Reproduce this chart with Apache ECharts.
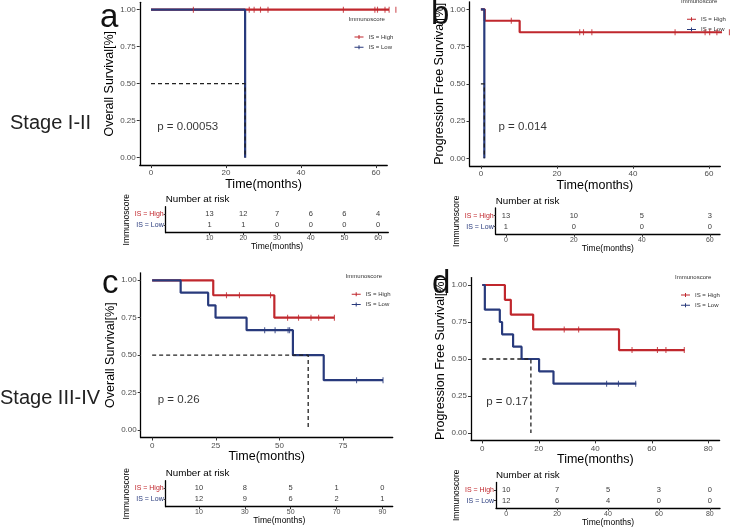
<!DOCTYPE html>
<html>
<head>
<meta charset="utf-8">
<script src="https://cdn.jsdelivr.net/npm/echarts@6/dist/echarts.min.js"></script>
<style>
  html, body { margin: 0; padding: 0; background: #fff; }
  #chart { width: 730px; height: 528px; }
</style>
</head>
<body>
<div id="chart"></div>
<script>
const RED = "#C0272D";
const BLUE = "#283A7C";
const FONT = "Liberation Sans, Arial, sans-serif";

// --- panel a: Stage I-II, overall survival ---
const aHighTime = [0, 65.3];
const aHighSurv = [1, 1];
const aHighCensor = [11.3, 26.2, 27.5, 29.2, 31.2, 51.3, 59.7, 60.4, 62.4, 63.5, 65.3];
const aLowTime = [0, 25.1];
const aLowSurv = [1, 0];
const aLowCensor = [];
const aMedian = 25.1;
const aRiskTimes = [10, 20, 30, 40, 50, 60];
const aRiskHigh = [13, 12, 7, 6, 6, 4];
const aRiskLow = [1, 1, 0, 0, 0, 0];

// --- panel b: Stage I-II, progression free survival ---
const bHighTime = [0, 1, 10.2, 65.4];
const bHighSurv = [1, 0.923, 0.846, 0.846];
const bHighCensor = [8, 26, 27, 29.2, 51.1, 59, 60.2, 62.1, 65.4];
const bLowTime = [0, 0.9];
const bLowSurv = [1, 0];
const bLowCensor = [];
const bMedian = 0.9;
const bRiskTimes = [0, 20, 40, 60];
const bRiskHigh = [13, 10, 5, 3];
const bRiskLow = [1, 0, 0, 0];

// --- panel c: Stage III-IV, overall survival ---
const cHighTime = [0, 24, 48, 71.6];
const cHighSurv = [1, 0.9, 0.75, 0.75];
const cHighCensor = [29.2, 34.3, 46.5, 53.2, 57.5, 62.4, 65.4, 71.6];
const cLowTime = [0, 11.2, 22, 24.9, 37.1, 55.3, 67.4, 90.7];
const cLowSurv = [1, 0.917, 0.833, 0.75, 0.667, 0.5, 0.333, 0.333];
const cLowCensor = [44.2, 48.3, 53.4, 54, 80.3, 90.7];
const cMedian = 61.3;
const cRiskTimes = [10, 30, 50, 70, 90];
const cRiskHigh = [10, 8, 5, 1, 0];
const cRiskLow = [12, 9, 6, 2, 1];

// --- panel d: Stage III-IV, progression free survival ---
const dHighTime = [0, 8, 10.1, 18, 48.4, 71.6];
const dHighSurv = [1, 0.9, 0.8, 0.7, 0.56, 0.56];
const dHighCensor = [29, 34.1, 53, 62, 65, 71.5];
const dLowTime = [0, 0.9, 6.2, 7, 10.9, 13.9, 20.1, 25.2, 54.5];
const dLowSurv = [1, 0.833, 0.75, 0.667, 0.583, 0.5, 0.417, 0.333, 0.333];
const dLowCensor = [44, 48.2, 54.3];
const dMedian = 17.2;
const dRiskTimes = [0, 20, 40, 60, 80];
const dRiskHigh = [10, 7, 5, 3, 0];
const dRiskLow = [12, 6, 4, 0, 0];

// tick labels
const survTicks = [0, 0.25, 0.5, 0.75, 1];
const abTimeTicks = [0, 20, 40, 60];
const cTimeTicks = [0, 25, 50, 75];
const dTimeTicks = [0, 20, 40, 60, 80];

const option = {
  backgroundColor: "#fff",
  animation: false,
  textStyle: { fontFamily: FONT },
  grid: [], xAxis: [], yAxis: [], series: [], legend: [], graphic: []
};

// value of the step curve at time t
function survAt(times, surv, t) {
  let v = surv[0];
  for (let i = 0; i < times.length; i++) if (times[i] <= t) v = surv[i];
  return v;
}

function kmLine(idx, name, color, times, surv) {
  return {
    type: "line", name: name, xAxisIndex: idx, yAxisIndex: idx,
    step: "end", symbol: "none", clip: false, z: 3,
    lineStyle: { color: color, width: 2.2 }, itemStyle: { color: color },
    data: times.map((t, i) => [t, surv[i]])
  };
}

function censorMarks(idx, name, color, times, surv, cens) {
  return {
    type: "scatter", name: name, xAxisIndex: idx, yAxisIndex: idx,
    symbol: "rect", symbolSize: [1.1, 6], clip: false, z: 4,
    itemStyle: { color: color },
    data: cens.map((t) => [t, survAt(times, surv, t)])
  };
}

function addPanel(p) {
  // survival plot
  let idx = option.grid.length;
  option.grid.push({ left: p.plot[0], top: p.plot[1], width: p.plot[2], height: p.plot[3] });
  option.xAxis.push({
    type: "value", gridIndex: idx, min: p.xMin, max: p.xMax,
    name: "Time(months)", nameLocation: "middle", nameGap: 10,
    nameTextStyle: { fontSize: 12.5, color: "#000", verticalAlign: "top" },
    splitLine: { show: false },
    axisLine: { onZero: false, lineStyle: { color: "#000", width: 1.3 } },
    axisTick: { customValues: p.xTicks, length: 3, lineStyle: { color: "#333" } },
    axisLabel: { customValues: p.xTicks, fontSize: 8, color: "#4d4d4d", margin: 4 }
  });
  option.yAxis.push({
    type: "value", gridIndex: idx, min: -0.05, max: 1.05,
    name: p.yName, nameLocation: "middle", nameGap: 16, nameRotate: 90,
    nameTextStyle: { fontSize: 12.5, color: "#000" },
    splitLine: { show: false },
    axisLine: { show: true, onZero: false, lineStyle: { color: "#000", width: 1.3 } },
    axisTick: { show: true, customValues: survTicks, length: 3, lineStyle: { color: "#333" } },
    axisLabel: { customValues: survTicks, fontSize: 8, color: "#4d4d4d", margin: 4,
      formatter: (v) => v.toFixed(2) }
  });
  option.series.push(kmLine(idx, "IS = High", RED, p.highTime, p.highSurv));
  option.series.push(kmLine(idx, "IS = Low", BLUE, p.lowTime, p.lowSurv));
  option.series.push(censorMarks(idx, "IS = High", RED, p.highTime, p.highSurv, p.highCensor));
  option.series.push(censorMarks(idx, "IS = Low", BLUE, p.lowTime, p.lowSurv, p.lowCensor));
  // median survival guide
  option.series.push({
    type: "line", xAxisIndex: idx, yAxisIndex: idx, symbol: "none", z: 5, silent: true,
    lineStyle: { color: "#222", width: 1.3, type: [4, 3] },
    data: [[0, 0.5], [p.median, 0.5], [p.median, 0]]
  });
  // p-value text
  option.series.push({
    type: "scatter", xAxisIndex: idx, yAxisIndex: idx, symbolSize: 1, silent: true,
    itemStyle: { color: "rgba(0,0,0,0)" },
    label: { show: true, position: "right", distance: 0, formatter: p.pText,
      fontSize: 11.5, color: "#000" },
    data: [p.pPos]
  });
  option.legend.push({
    data: ["IS = High", "IS = Low"], orient: "vertical",
    left: p.legend[0], top: p.legend[1], itemGap: 3.2,
    itemWidth: 9, itemHeight: 5, selectedMode: false,
    icon: "path://M0,4H18V6H0Z M8,1H10V9H8Z",
    textStyle: { fontSize: 6, color: "#333", lineHeight: 7 }
  });
  option.graphic.push({
    type: "text", left: p.legend[0] - 1, top: p.legend[1] - 12,
    style: { text: "Immunoscore", fontSize: 6, fill: "#333", fontFamily: FONT }
  });
  option.graphic.push({
    type: "text", x: p.letter[0], y: p.letter[1], z: 10,
    style: { text: p.letterText, fontSize: 33, fill: "#111", fontFamily: FONT,
      verticalAlign: "middle" }
  });

  // number-at-risk table
  idx = option.grid.length;
  option.grid.push({ left: p.table[0], top: p.table[1], width: p.table[2], height: p.table[3] });
  option.xAxis.push({
    type: "value", gridIndex: idx, min: p.xMin, max: p.xMax,
    name: "Time(months)", nameLocation: "middle", nameGap: 9.5,
    nameTextStyle: { fontSize: 8.5, color: "#000", verticalAlign: "top" },
    splitLine: { show: false },
    axisLine: { onZero: false, lineStyle: { color: "#000", width: 1.3 } },
    axisTick: { customValues: p.riskTimes, length: 2.5, lineStyle: { color: "#333" } },
    axisLabel: { customValues: p.riskTimes, fontSize: 7, color: "#4d4d4d", margin: 2 }
  });
  option.yAxis.push({
    type: "value", gridIndex: idx, min: -0.7, max: 1.7,
    name: "Immunoscore", nameLocation: "middle", nameGap: 35, nameRotate: 90,
    nameTextStyle: { fontSize: 8.5, color: "#000" },
    splitLine: { show: false },
    axisLine: { show: true, onZero: false, lineStyle: { color: "#000", width: 1.3 } },
    axisTick: { show: true, customValues: [0, 1], length: 2, lineStyle: { color: "#333" } },
    axisLabel: { customValues: [0, 1], fontSize: 7, margin: 2,
      formatter: (v) => (v === 1 ? "{h|IS = High}" : "{l|IS = Low}"),
      rich: { h: { color: RED, fontSize: 7 }, l: { color: BLUE, fontSize: 7 } } }
  });
  [[p.riskHigh, 1], [p.riskLow, 0]].forEach(([vals, row]) => {
    option.series.push({
      type: "scatter", xAxisIndex: idx, yAxisIndex: idx, symbolSize: 1, silent: true,
      itemStyle: { color: "rgba(0,0,0,0)" },
      label: { show: true, position: "inside", formatter: (d) => String(d.value[2]),
        fontSize: 7.5, color: "#000" },
      data: p.riskTimes.map((t, i) => [t, row, vals[i]])
    });
  });
  option.graphic.push({
    type: "text", x: p.table[0], y: p.table[1] - 7,
    style: { text: "Number at risk", fontSize: 9.8, fill: "#000", fontFamily: FONT,
      verticalAlign: "middle" }
  });
}

addPanel({
  letterText: "a", letter: [100, 18],
  plot: [139.75, 2.3, 247.5, 162.8], table: [165.7, 206.7, 222.6, 26],
  xMin: -3, xMax: 63, xTicks: abTimeTicks, yName: "Overall Survival[%]",
  highTime: aHighTime, highSurv: aHighSurv, highCensor: aHighCensor,
  lowTime: aLowTime, lowSurv: aLowSurv, lowCensor: aLowCensor, median: aMedian,
  pText: "p = 0.00053", pPos: [1.5, 0.21], legend: [349.5, 28.5],
  riskTimes: aRiskTimes, riskHigh: aRiskHigh, riskLow: aRiskLow
});
addPanel({
  letterText: "b", letter: [431, 15],
  plot: [469.5, 1.85, 250.8, 163.9], table: [495.7, 208, 224.3, 26.3],
  xMin: -3, xMax: 63, xTicks: abTimeTicks, yName: "Progression Free Survival[%]",
  highTime: bHighTime, highSurv: bHighSurv, highCensor: bHighCensor,
  lowTime: bLowTime, lowSurv: bLowSurv, lowCensor: bLowCensor, median: bMedian,
  pText: "p = 0.014", pPos: [4.5, 0.21], legend: [682, 10.8],
  riskTimes: bRiskTimes, riskHigh: bRiskHigh, riskLow: bRiskLow
});
addPanel({
  letterText: "c", letter: [102, 284],
  plot: [140.7, 272.8, 252, 164.7], table: [165.7, 480.7, 227, 26],
  xMin: -4.5, xMax: 94.5, xTicks: cTimeTicks, yName: "Overall Survival[%]",
  highTime: cHighTime, highSurv: cHighSurv, highCensor: cHighCensor,
  lowTime: cLowTime, lowSurv: cLowSurv, lowCensor: cLowCensor, median: cMedian,
  pText: "p = 0.26", pPos: [2, 0.2], legend: [346.7, 285.8],
  riskTimes: cRiskTimes, riskHigh: cRiskHigh, riskLow: cRiskLow
});
addPanel({
  letterText: "d", letter: [432, 284],
  plot: [471, 277.6, 248.6, 162.8], table: [496, 482.5, 224, 26.2],
  xMin: -4, xMax: 84, xTicks: dTimeTicks, yName: "Progression Free Survival[%]",
  highTime: dHighTime, highSurv: dHighSurv, highCensor: dHighCensor,
  lowTime: dLowTime, lowSurv: dLowSurv, lowCensor: dLowCensor, median: dMedian,
  pText: "p = 0.17", pPos: [1.2, 0.21], legend: [676, 286.5],
  riskTimes: dRiskTimes, riskHigh: dRiskHigh, riskLow: dRiskLow
});

// row labels for the stages
option.graphic.push({
  type: "text", x: 10, y: 123,
  style: { text: "Stage I-II", fontSize: 20, fill: "#222", fontFamily: FONT, verticalAlign: "middle" }
});
option.graphic.push({
  type: "text", x: 0, y: 398,
  style: { text: "Stage III-IV", fontSize: 20, fill: "#222", fontFamily: FONT, verticalAlign: "middle" }
});

const chart = echarts.init(document.getElementById("chart"), null, { renderer: "canvas" });
chart.setOption(option);
</script>
</body>
</html>
